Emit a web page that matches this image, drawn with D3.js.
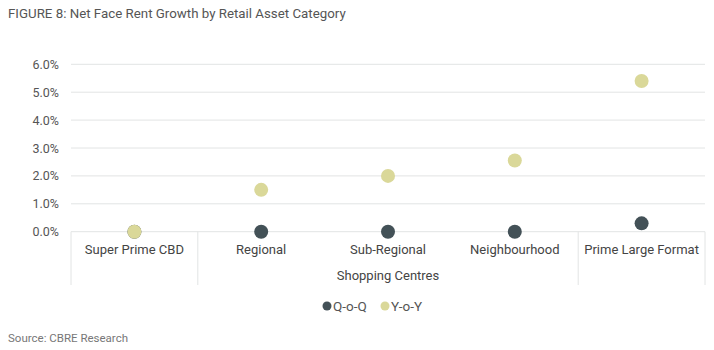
<!DOCTYPE html>
<html>
<head>
<meta charset="utf-8">
<script src="https://cdn.jsdelivr.net/npm/d3@7"></script>
<style>
  html, body { margin: 0; padding: 0; background: #fff; }
  svg { display: block; font-family: Roboto, "Noto Sans", sans-serif; }
</style>
</head>
<body>
<svg id="chart" width="714" height="350"></svg>
<script>
// Net face rent growth, per retail asset category
const categories = ["Super Prime CBD", "Regional", "Sub-Regional", "Neighbourhood", "Prime Large Format"];
const qoq = [0.0, 0.0, 0.0, 0.0, 0.3];
const yoy = [0.0, 1.5, 2.0, 2.55, 5.4];
const yTicks = [0, 1, 2, 3, 4, 5, 6];
const groupLabel = "Shopping Centres";
const groupMembers = ["Regional", "Sub-Regional", "Neighbourhood"];
const seriesNames = ["Q-o-Q", "Y-o-Y"];
const seriesColors = ["#435157", "#dad899"];

const svg = d3.select("#chart");
const plotLeft = 71, plotRight = 705, plotTop = 64.3, plotBottom = 231.7;

const x = d3.scaleBand().domain(categories).range([plotLeft, plotRight]).padding(0);
const y = d3.scaleLinear().domain([0, 6]).range([plotBottom, plotTop]);

// Title
svg.append("text").attr("x", 8).attr("y", 18)
  .attr("font-size", 13.3).attr("fill", "#555")
  .text("FIGURE 8: Net Face Rent Growth by Retail Asset Category");

// Gridlines
svg.append("g").selectAll("line").data(yTicks).join("line")
  .attr("x1", plotLeft).attr("x2", plotRight)
  .attr("y1", d => y(d)).attr("y2", d => y(d))
  .attr("stroke", "#e2e4e4").attr("stroke-width", 1);

// Y axis labels
const yAxis = d3.axisLeft(y).tickValues(yTicks).tickFormat(d => d3.format(".1f")(d) + "%").tickSize(0).tickPadding(12);
const gy = svg.append("g").attr("transform", `translate(${plotLeft},0)`).call(yAxis);
gy.select(".domain").remove();
gy.selectAll("text").attr("font-size", 12.5).attr("fill", "#555").attr("font-family", "Roboto, sans-serif");

// Category boxes: dividers around standalone categories and around the group
const boxBottom = 285;
const dividers = [
  x(categories[0]),
  x(groupMembers[0]),
  x(groupMembers[groupMembers.length - 1]) + x.bandwidth(),
  x(categories[categories.length - 1]) + x.bandwidth()
];
svg.append("g").selectAll("line").data(dividers).join("line")
  .attr("x1", d => d).attr("x2", d => d)
  .attr("y1", plotBottom).attr("y2", boxBottom)
  .attr("stroke", "#e2e4e4").attr("stroke-width", 1);

// Category labels
svg.append("g").selectAll("text").data(categories).join("text")
  .attr("x", d => x(d) + x.bandwidth() / 2).attr("y", 254)
  .attr("text-anchor", "middle").attr("font-size", 13).attr("fill", "#444")
  .text(d => d);

// Group label
const gx0 = x(groupMembers[0]), gx1 = x(groupMembers[groupMembers.length - 1]) + x.bandwidth();
svg.append("text").attr("x", (gx0 + gx1) / 2).attr("y", 280)
  .attr("text-anchor", "middle").attr("font-size", 13).attr("fill", "#444")
  .text(groupLabel);

// Dots: Q-o-Q first, Y-o-Y drawn on top
[qoq, yoy].forEach((vals, i) => {
  svg.append("g").selectAll("circle").data(vals).join("circle")
    .attr("cx", (d, j) => x(categories[j]) + x.bandwidth() / 2)
    .attr("cy", d => y(d))
    .attr("r", 7)
    .attr("fill", seriesColors[i]);
});

// Legend
const legend = svg.append("g");
const legendX = [327, 385];
seriesNames.forEach((name, i) => {
  legend.append("circle").attr("cx", legendX[i]).attr("cy", 306).attr("r", 4.5).attr("fill", seriesColors[i]);
  legend.append("text").attr("x", legendX[i] + 6).attr("y", 310.5)
    .attr("font-size", 13.5).attr("fill", "#555").text(name);
});

// Source
svg.append("text").attr("x", 8).attr("y", 342)
  .attr("font-size", 11.5).attr("fill", "#777")
  .text("Source: CBRE Research");
</script>
</body>
</html>
